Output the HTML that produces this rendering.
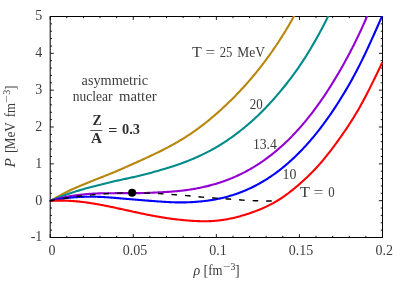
<!DOCTYPE html>
<html><head><meta charset="utf-8"><title>P vs rho</title>
<style>
html,body{margin:0;padding:0;background:#fff;}
svg{display:block;font-family:"Liberation Serif",serif;font-size:14px;fill:#222;}
.c path{fill:none;stroke-width:2.1;stroke-linejoin:round;}
</style></head><body>
<svg width="407" height="285" viewBox="0 0 407 285">
<rect width="407" height="285" fill="#fff"/>
<defs><filter id="nf" x="0" y="0" width="407" height="285" filterUnits="userSpaceOnUse"><feOffset dx="0" dy="0"/></filter><clipPath id="cp"><rect x="49.2" y="16.0" width="333.8" height="222.0"/></clipPath></defs>
<rect x="50.2" y="16.5" width="332.3" height="221.0" fill="none" stroke="#000" stroke-width="1.0"/>
<path d="M50.20,237.5 v-3.4 M50.20,16.5 v3.4 M66.81,237.5 v-1.7 M66.81,16.5 v1.7 M83.43,237.5 v-1.7 M83.43,16.5 v1.7 M100.04,237.5 v-1.7 M100.04,16.5 v1.7 M116.66,237.5 v-1.7 M116.66,16.5 v1.7 M133.28,237.5 v-3.4 M133.28,16.5 v3.4 M149.89,237.5 v-1.7 M149.89,16.5 v1.7 M166.50,237.5 v-1.7 M166.50,16.5 v1.7 M183.12,237.5 v-1.7 M183.12,16.5 v1.7 M199.74,237.5 v-1.7 M199.74,16.5 v1.7 M216.35,237.5 v-3.4 M216.35,16.5 v3.4 M232.97,237.5 v-1.7 M232.97,16.5 v1.7 M249.58,237.5 v-1.7 M249.58,16.5 v1.7 M266.19,237.5 v-1.7 M266.19,16.5 v1.7 M282.81,237.5 v-1.7 M282.81,16.5 v1.7 M299.43,237.5 v-3.4 M299.43,16.5 v3.4 M316.04,237.5 v-1.7 M316.04,16.5 v1.7 M332.66,237.5 v-1.7 M332.66,16.5 v1.7 M349.27,237.5 v-1.7 M349.27,16.5 v1.7 M365.88,237.5 v-1.7 M365.88,16.5 v1.7 M382.50,237.5 v-3.4 M382.50,16.5 v3.4 M50.2,237.50 h3.6 M382.5,237.50 h-3.6 M50.2,230.13 h1.8 M382.5,230.13 h-1.8 M50.2,222.77 h1.8 M382.5,222.77 h-1.8 M50.2,215.40 h1.8 M382.5,215.40 h-1.8 M50.2,208.03 h1.8 M382.5,208.03 h-1.8 M50.2,200.67 h3.6 M382.5,200.67 h-3.6 M50.2,193.30 h1.8 M382.5,193.30 h-1.8 M50.2,185.93 h1.8 M382.5,185.93 h-1.8 M50.2,178.57 h1.8 M382.5,178.57 h-1.8 M50.2,171.20 h1.8 M382.5,171.20 h-1.8 M50.2,163.83 h3.6 M382.5,163.83 h-3.6 M50.2,156.47 h1.8 M382.5,156.47 h-1.8 M50.2,149.10 h1.8 M382.5,149.10 h-1.8 M50.2,141.73 h1.8 M382.5,141.73 h-1.8 M50.2,134.37 h1.8 M382.5,134.37 h-1.8 M50.2,127.00 h3.6 M382.5,127.00 h-3.6 M50.2,119.63 h1.8 M382.5,119.63 h-1.8 M50.2,112.27 h1.8 M382.5,112.27 h-1.8 M50.2,104.90 h1.8 M382.5,104.90 h-1.8 M50.2,97.53 h1.8 M382.5,97.53 h-1.8 M50.2,90.17 h3.6 M382.5,90.17 h-3.6 M50.2,82.80 h1.8 M382.5,82.80 h-1.8 M50.2,75.43 h1.8 M382.5,75.43 h-1.8 M50.2,68.07 h1.8 M382.5,68.07 h-1.8 M50.2,60.70 h1.8 M382.5,60.70 h-1.8 M50.2,53.33 h3.6 M382.5,53.33 h-3.6 M50.2,45.97 h1.8 M382.5,45.97 h-1.8 M50.2,38.60 h1.8 M382.5,38.60 h-1.8 M50.2,31.23 h1.8 M382.5,31.23 h-1.8 M50.2,23.87 h1.8 M382.5,23.87 h-1.8 M50.2,16.50 h3.6 M382.5,16.50 h-3.6" stroke="#000" stroke-width="0.9" fill="none"/>
<g class="c" clip-path="url(#cp)">
<path d="M50.3,200.80 L51.3,200.25 L52.3,199.69 L53.3,199.14 L54.3,198.59 L55.3,198.05 L56.3,197.50 L57.3,196.96 L58.3,196.42 L59.3,195.88 L60.3,195.35 L61.3,194.82 L62.3,194.30 L63.3,193.78 L64.3,193.27 L65.3,192.76 L66.3,192.25 L67.3,191.75 L68.3,191.25 L69.3,190.76 L70.3,190.27 L71.3,189.79 L72.3,189.32 L73.3,188.85 L74.3,188.40 L75.3,187.95 L76.3,187.51 L77.3,187.07 L78.3,186.64 L79.3,186.22 L80.3,185.80 L81.3,185.39 L82.3,184.98 L83.3,184.57 L84.3,184.16 L85.3,183.75 L86.3,183.33 L87.3,182.92 L88.3,182.51 L89.3,182.10 L90.3,181.68 L91.3,181.27 L92.3,180.86 L93.3,180.46 L94.3,180.05 L95.3,179.65 L96.3,179.25 L97.3,178.86 L98.3,178.46 L99.3,178.07 L100.3,177.68 L101.3,177.29 L102.3,176.90 L103.3,176.51 L104.3,176.13 L105.3,175.73 L106.3,175.34 L107.3,174.95 L108.3,174.55 L109.3,174.15 L110.3,173.75 L111.3,173.34 L112.3,172.93 L113.3,172.52 L114.3,172.10 L115.3,171.68 L116.3,171.26 L117.3,170.83 L118.3,170.40 L119.3,169.97 L120.3,169.54 L121.3,169.10 L122.3,168.67 L123.3,168.23 L124.3,167.79 L125.3,167.35 L126.3,166.91 L127.3,166.46 L128.3,166.02 L129.3,165.57 L130.3,165.13 L131.3,164.68 L132.3,164.23 L133.3,163.78 L134.3,163.33 L135.3,162.88 L136.3,162.43 L137.3,161.98 L138.3,161.52 L139.3,161.07 L140.3,160.61 L141.3,160.16 L142.3,159.70 L143.3,159.24 L144.3,158.79 L145.3,158.33 L146.3,157.87 L147.3,157.40 L148.3,156.94 L149.3,156.47 L150.3,156.00 L151.3,155.53 L152.3,155.06 L153.3,154.59 L154.3,154.11 L155.3,153.63 L156.3,153.15 L157.3,152.66 L158.3,152.18 L159.3,151.69 L160.3,151.19 L161.3,150.69 L162.3,150.19 L163.3,149.69 L164.3,149.18 L165.3,148.67 L166.3,148.15 L167.3,147.63 L168.3,147.10 L169.3,146.57 L170.3,146.03 L171.3,145.49 L172.3,144.95 L173.3,144.39 L174.3,143.84 L175.3,143.27 L176.3,142.70 L177.3,142.13 L178.3,141.55 L179.3,140.96 L180.3,140.36 L181.3,139.76 L182.3,139.15 L183.3,138.53 L184.3,137.91 L185.3,137.28 L186.3,136.64 L187.3,135.99 L188.3,135.34 L189.3,134.68 L190.3,134.01 L191.3,133.34 L192.3,132.65 L193.3,131.96 L194.3,131.26 L195.3,130.56 L196.3,129.84 L197.3,129.12 L198.3,128.39 L199.3,127.65 L200.3,126.91 L201.3,126.15 L202.3,125.39 L203.3,124.62 L204.3,123.84 L205.3,123.05 L206.3,122.26 L207.3,121.45 L208.3,120.64 L209.3,119.82 L210.3,119.00 L211.3,118.16 L212.3,117.32 L213.3,116.47 L214.3,115.61 L215.3,114.75 L216.3,113.88 L217.3,113.00 L218.3,112.11 L219.3,111.22 L220.3,110.32 L221.3,109.41 L222.3,108.50 L223.3,107.57 L224.3,106.64 L225.3,105.70 L226.3,104.76 L227.3,103.81 L228.3,102.84 L229.3,101.87 L230.3,100.90 L231.3,99.91 L232.3,98.92 L233.3,97.92 L234.3,96.91 L235.3,95.89 L236.3,94.86 L237.3,93.82 L238.3,92.78 L239.3,91.72 L240.3,90.66 L241.3,89.59 L242.3,88.51 L243.3,87.42 L244.3,86.32 L245.3,85.21 L246.3,84.09 L247.3,82.96 L248.3,81.82 L249.3,80.67 L250.3,79.51 L251.3,78.34 L252.3,77.15 L253.3,75.96 L254.3,74.76 L255.3,73.55 L256.3,72.32 L257.3,71.08 L258.3,69.84 L259.3,68.58 L260.3,67.31 L261.3,66.03 L262.3,64.73 L263.3,63.42 L264.3,62.11 L265.3,60.77 L266.3,59.43 L267.3,58.07 L268.3,56.70 L269.3,55.32 L270.3,53.92 L271.3,52.51 L272.3,51.09 L273.3,49.65 L274.3,48.19 L275.3,46.73 L276.3,45.24 L277.3,43.75 L278.3,42.24 L279.3,40.71 L280.3,39.17 L281.3,37.61 L282.3,36.03 L283.3,34.44 L284.3,32.83 L285.3,31.21 L286.3,29.56 L287.3,27.90 L288.3,26.22 L289.3,24.51 L290.3,22.79 L291.3,21.05 L292.3,19.28 L293.3,17.49 L294.3,15.68 L295.3,13.85 L296.3,11.99 L297.3,10.11 L298.3,8.21 L299.3,6.28 L300.3,4.32 L301.3,2.34 L302.3,0.33 L303.3,-1.70 L304.3,-3.75 L305.3,-5.82 L306.3,-7.91 L307.3,-10.01 L308.3,-12.14 L309.3,-14.28 L310.3,-16.43 L311.3,-18.60 L312.3,-20.78 L313.3,-22.96 L314.3,-25.16 L315.3,-27.36 L316.3,-29.57 L317.3,-31.79 L318.3,-34.01 L319.3,-36.23" stroke="#b8860b"/>
<path d="M50.3,200.80 L51.3,200.39 L52.3,199.99 L53.3,199.58 L54.3,199.18 L55.3,198.78 L56.3,198.38 L57.3,197.99 L58.3,197.59 L59.3,197.20 L60.3,196.82 L61.3,196.44 L62.3,196.06 L63.3,195.69 L64.3,195.32 L65.3,194.96 L66.3,194.60 L67.3,194.26 L68.3,193.91 L69.3,193.57 L70.3,193.24 L71.3,192.91 L72.3,192.59 L73.3,192.26 L74.3,191.94 L75.3,191.62 L76.3,191.31 L77.3,190.99 L78.3,190.68 L79.3,190.38 L80.3,190.07 L81.3,189.77 L82.3,189.47 L83.3,189.18 L84.3,188.89 L85.3,188.61 L86.3,188.33 L87.3,188.05 L88.3,187.78 L89.3,187.52 L90.3,187.25 L91.3,186.99 L92.3,186.73 L93.3,186.48 L94.3,186.22 L95.3,185.96 L96.3,185.71 L97.3,185.45 L98.3,185.20 L99.3,184.94 L100.3,184.69 L101.3,184.43 L102.3,184.18 L103.3,183.93 L104.3,183.68 L105.3,183.43 L106.3,183.18 L107.3,182.94 L108.3,182.70 L109.3,182.46 L110.3,182.22 L111.3,181.98 L112.3,181.75 L113.3,181.52 L114.3,181.29 L115.3,181.06 L116.3,180.84 L117.3,180.61 L118.3,180.39 L119.3,180.17 L120.3,179.95 L121.3,179.73 L122.3,179.51 L123.3,179.30 L124.3,179.08 L125.3,178.87 L126.3,178.65 L127.3,178.43 L128.3,178.22 L129.3,178.00 L130.3,177.79 L131.3,177.57 L132.3,177.35 L133.3,177.13 L134.3,176.91 L135.3,176.68 L136.3,176.46 L137.3,176.23 L138.3,175.99 L139.3,175.76 L140.3,175.52 L141.3,175.27 L142.3,175.03 L143.3,174.78 L144.3,174.52 L145.3,174.27 L146.3,174.01 L147.3,173.74 L148.3,173.48 L149.3,173.21 L150.3,172.94 L151.3,172.66 L152.3,172.39 L153.3,172.11 L154.3,171.83 L155.3,171.55 L156.3,171.26 L157.3,170.98 L158.3,170.69 L159.3,170.40 L160.3,170.11 L161.3,169.82 L162.3,169.53 L163.3,169.24 L164.3,168.94 L165.3,168.64 L166.3,168.34 L167.3,168.04 L168.3,167.73 L169.3,167.42 L170.3,167.11 L171.3,166.80 L172.3,166.48 L173.3,166.16 L174.3,165.83 L175.3,165.50 L176.3,165.17 L177.3,164.83 L178.3,164.49 L179.3,164.14 L180.3,163.78 L181.3,163.42 L182.3,163.06 L183.3,162.69 L184.3,162.32 L185.3,161.93 L186.3,161.55 L187.3,161.16 L188.3,160.76 L189.3,160.36 L190.3,159.95 L191.3,159.54 L192.3,159.12 L193.3,158.70 L194.3,158.27 L195.3,157.83 L196.3,157.39 L197.3,156.94 L198.3,156.49 L199.3,156.03 L200.3,155.57 L201.3,155.10 L202.3,154.63 L203.3,154.15 L204.3,153.66 L205.3,153.16 L206.3,152.66 L207.3,152.16 L208.3,151.64 L209.3,151.12 L210.3,150.59 L211.3,150.06 L212.3,149.51 L213.3,148.96 L214.3,148.40 L215.3,147.83 L216.3,147.26 L217.3,146.67 L218.3,146.08 L219.3,145.48 L220.3,144.87 L221.3,144.25 L222.3,143.62 L223.3,142.98 L224.3,142.33 L225.3,141.67 L226.3,141.01 L227.3,140.33 L228.3,139.65 L229.3,138.96 L230.3,138.26 L231.3,137.55 L232.3,136.83 L233.3,136.11 L234.3,135.38 L235.3,134.63 L236.3,133.88 L237.3,133.13 L238.3,132.36 L239.3,131.59 L240.3,130.80 L241.3,130.02 L242.3,129.22 L243.3,128.41 L244.3,127.60 L245.3,126.77 L246.3,125.94 L247.3,125.10 L248.3,124.25 L249.3,123.39 L250.3,122.52 L251.3,121.64 L252.3,120.75 L253.3,119.85 L254.3,118.94 L255.3,118.02 L256.3,117.09 L257.3,116.14 L258.3,115.19 L259.3,114.22 L260.3,113.25 L261.3,112.26 L262.3,111.25 L263.3,110.24 L264.3,109.22 L265.3,108.18 L266.3,107.14 L267.3,106.08 L268.3,105.01 L269.3,103.93 L270.3,102.84 L271.3,101.74 L272.3,100.63 L273.3,99.50 L274.3,98.37 L275.3,97.23 L276.3,96.08 L277.3,94.92 L278.3,93.74 L279.3,92.56 L280.3,91.37 L281.3,90.17 L282.3,88.96 L283.3,87.74 L284.3,86.51 L285.3,85.26 L286.3,84.01 L287.3,82.74 L288.3,81.46 L289.3,80.17 L290.3,78.86 L291.3,77.54 L292.3,76.21 L293.3,74.85 L294.3,73.49 L295.3,72.11 L296.3,70.71 L297.3,69.29 L298.3,67.86 L299.3,66.41 L300.3,64.94 L301.3,63.45 L302.3,61.94 L303.3,60.42 L304.3,58.87 L305.3,57.31 L306.3,55.73 L307.3,54.13 L308.3,52.51 L309.3,50.87 L310.3,49.21 L311.3,47.54 L312.3,45.84 L313.3,44.13 L314.3,42.40 L315.3,40.64 L316.3,38.87 L317.3,37.08 L318.3,35.27 L319.3,33.44 L320.3,31.59 L321.3,29.73 L322.3,27.84 L323.3,25.93 L324.3,24.00 L325.3,22.04 L326.3,20.06 L327.3,18.06 L328.3,16.03 L329.3,13.98 L330.3,11.90 L331.3,9.79 L332.3,7.65 L333.3,5.48 L334.3,3.29 L335.3,1.06 L336.3,-1.20 L337.3,-3.49 L338.3,-5.82 L339.3,-8.18 L340.3,-10.57 L341.3,-13.00 L342.3,-15.47 L343.3,-17.96 L344.3,-20.48 L345.3,-23.04 L346.3,-25.62 L347.3,-28.22 L348.3,-30.84 L349.3,-33.49 L350.3,-36.16 L351.3,-38.84 L352.3,-41.54 L353.3,-44.25 L354.3,-46.97 L355.3,-49.71 L356.3,-52.45 L357.3,-55.20 L358.3,-57.95 L359.3,-60.71" stroke="#008b8b"/>
<path d="M50.3,200.80 L51.3,200.52 L52.3,200.23 L53.3,199.95 L54.3,199.67 L55.3,199.40 L56.3,199.13 L57.3,198.87 L58.3,198.61 L59.3,198.37 L60.3,198.13 L61.3,197.90 L62.3,197.68 L63.3,197.47 L64.3,197.26 L65.3,197.06 L66.3,196.86 L67.3,196.67 L68.3,196.49 L69.3,196.31 L70.3,196.14 L71.3,195.98 L72.3,195.82 L73.3,195.67 L74.3,195.52 L75.3,195.38 L76.3,195.24 L77.3,195.11 L78.3,194.99 L79.3,194.87 L80.3,194.75 L81.3,194.64 L82.3,194.54 L83.3,194.44 L84.3,194.34 L85.3,194.24 L86.3,194.15 L87.3,194.06 L88.3,193.98 L89.3,193.90 L90.3,193.82 L91.3,193.75 L92.3,193.69 L93.3,193.62 L94.3,193.57 L95.3,193.52 L96.3,193.47 L97.3,193.43 L98.3,193.39 L99.3,193.36 L100.3,193.33 L101.3,193.31 L102.3,193.29 L103.3,193.27 L104.3,193.25 L105.3,193.24 L106.3,193.23 L107.3,193.22 L108.3,193.21 L109.3,193.20 L110.3,193.20 L111.3,193.19 L112.3,193.19 L113.3,193.18 L114.3,193.18 L115.3,193.17 L116.3,193.17 L117.3,193.17 L118.3,193.17 L119.3,193.16 L120.3,193.16 L121.3,193.16 L122.3,193.16 L123.3,193.16 L124.3,193.16 L125.3,193.16 L126.3,193.16 L127.3,193.16 L128.3,193.16 L129.3,193.16 L130.3,193.16 L131.3,193.16 L132.3,193.16 L133.3,193.16 L134.3,193.15 L135.3,193.14 L136.3,193.14 L137.3,193.13 L138.3,193.12 L139.3,193.10 L140.3,193.08 L141.3,193.07 L142.3,193.04 L143.3,193.02 L144.3,192.99 L145.3,192.96 L146.3,192.93 L147.3,192.90 L148.3,192.86 L149.3,192.83 L150.3,192.79 L151.3,192.75 L152.3,192.70 L153.3,192.66 L154.3,192.61 L155.3,192.57 L156.3,192.52 L157.3,192.47 L158.3,192.42 L159.3,192.37 L160.3,192.31 L161.3,192.26 L162.3,192.21 L163.3,192.15 L164.3,192.09 L165.3,192.03 L166.3,191.97 L167.3,191.91 L168.3,191.85 L169.3,191.78 L170.3,191.71 L171.3,191.64 L172.3,191.56 L173.3,191.48 L174.3,191.40 L175.3,191.31 L176.3,191.22 L177.3,191.13 L178.3,191.03 L179.3,190.93 L180.3,190.83 L181.3,190.72 L182.3,190.60 L183.3,190.48 L184.3,190.36 L185.3,190.23 L186.3,190.10 L187.3,189.96 L188.3,189.82 L189.3,189.67 L190.3,189.52 L191.3,189.36 L192.3,189.20 L193.3,189.03 L194.3,188.86 L195.3,188.68 L196.3,188.50 L197.3,188.31 L198.3,188.12 L199.3,187.92 L200.3,187.72 L201.3,187.51 L202.3,187.30 L203.3,187.08 L204.3,186.85 L205.3,186.62 L206.3,186.38 L207.3,186.14 L208.3,185.89 L209.3,185.64 L210.3,185.38 L211.3,185.11 L212.3,184.84 L213.3,184.56 L214.3,184.27 L215.3,183.98 L216.3,183.68 L217.3,183.38 L218.3,183.07 L219.3,182.75 L220.3,182.42 L221.3,182.09 L222.3,181.75 L223.3,181.40 L224.3,181.05 L225.3,180.69 L226.3,180.32 L227.3,179.94 L228.3,179.56 L229.3,179.17 L230.3,178.77 L231.3,178.36 L232.3,177.95 L233.3,177.53 L234.3,177.10 L235.3,176.66 L236.3,176.21 L237.3,175.76 L238.3,175.30 L239.3,174.82 L240.3,174.35 L241.3,173.86 L242.3,173.36 L243.3,172.86 L244.3,172.34 L245.3,171.82 L246.3,171.29 L247.3,170.75 L248.3,170.20 L249.3,169.64 L250.3,169.07 L251.3,168.49 L252.3,167.91 L253.3,167.31 L254.3,166.71 L255.3,166.09 L256.3,165.47 L257.3,164.83 L258.3,164.19 L259.3,163.53 L260.3,162.87 L261.3,162.20 L262.3,161.51 L263.3,160.82 L264.3,160.11 L265.3,159.40 L266.3,158.67 L267.3,157.94 L268.3,157.19 L269.3,156.43 L270.3,155.66 L271.3,154.89 L272.3,154.10 L273.3,153.30 L274.3,152.48 L275.3,151.66 L276.3,150.83 L277.3,149.98 L278.3,149.12 L279.3,148.25 L280.3,147.37 L281.3,146.48 L282.3,145.58 L283.3,144.66 L284.3,143.74 L285.3,142.80 L286.3,141.85 L287.3,140.88 L288.3,139.91 L289.3,138.92 L290.3,137.92 L291.3,136.91 L292.3,135.88 L293.3,134.84 L294.3,133.79 L295.3,132.73 L296.3,131.65 L297.3,130.56 L298.3,129.46 L299.3,128.34 L300.3,127.21 L301.3,126.07 L302.3,124.91 L303.3,123.74 L304.3,122.56 L305.3,121.36 L306.3,120.15 L307.3,118.92 L308.3,117.68 L309.3,116.43 L310.3,115.16 L311.3,113.87 L312.3,112.58 L313.3,111.26 L314.3,109.94 L315.3,108.59 L316.3,107.24 L317.3,105.86 L318.3,104.48 L319.3,103.07 L320.3,101.65 L321.3,100.22 L322.3,98.77 L323.3,97.30 L324.3,95.82 L325.3,94.32 L326.3,92.81 L327.3,91.28 L328.3,89.74 L329.3,88.18 L330.3,86.60 L331.3,85.01 L332.3,83.41 L333.3,81.79 L334.3,80.15 L335.3,78.50 L336.3,76.83 L337.3,75.14 L338.3,73.44 L339.3,71.73 L340.3,70.00 L341.3,68.25 L342.3,66.49 L343.3,64.71 L344.3,62.92 L345.3,61.10 L346.3,59.27 L347.3,57.42 L348.3,55.55 L349.3,53.67 L350.3,51.76 L351.3,49.83 L352.3,47.88 L353.3,45.91 L354.3,43.92 L355.3,41.90 L356.3,39.86 L357.3,37.80 L358.3,35.72 L359.3,33.61 L360.3,31.48 L361.3,29.32 L362.3,27.14 L363.3,24.93 L364.3,22.71 L365.3,20.46 L366.3,18.20 L367.3,15.92 L368.3,13.62 L369.3,11.30 L370.3,8.97 L371.3,6.63 L372.3,4.27 L373.3,1.90 L374.3,-0.48 L375.3,-2.87 L376.3,-5.27 L377.3,-7.67 L378.3,-10.08 L379.3,-12.50 L380.3,-14.92 L381.3,-17.34 L382.3,-19.76" stroke="#9400d3"/>
<path d="M50.3,200.80 L51.3,200.60 L52.3,200.39 L53.3,200.19 L54.3,199.99 L55.3,199.80 L56.3,199.61 L57.3,199.42 L58.3,199.25 L59.3,199.08 L60.3,198.92 L61.3,198.76 L62.3,198.62 L63.3,198.48 L64.3,198.34 L65.3,198.22 L66.3,198.09 L67.3,197.98 L68.3,197.87 L69.3,197.76 L70.3,197.66 L71.3,197.56 L72.3,197.48 L73.3,197.39 L74.3,197.31 L75.3,197.24 L76.3,197.17 L77.3,197.11 L78.3,197.05 L79.3,197.00 L80.3,196.95 L81.3,196.90 L82.3,196.86 L83.3,196.83 L84.3,196.80 L85.3,196.77 L86.3,196.75 L87.3,196.73 L88.3,196.72 L89.3,196.71 L90.3,196.71 L91.3,196.71 L92.3,196.71 L93.3,196.72 L94.3,196.74 L95.3,196.76 L96.3,196.78 L97.3,196.81 L98.3,196.84 L99.3,196.88 L100.3,196.92 L101.3,196.97 L102.3,197.01 L103.3,197.07 L104.3,197.12 L105.3,197.18 L106.3,197.25 L107.3,197.31 L108.3,197.38 L109.3,197.45 L110.3,197.52 L111.3,197.60 L112.3,197.67 L113.3,197.75 L114.3,197.83 L115.3,197.92 L116.3,198.00 L117.3,198.08 L118.3,198.17 L119.3,198.26 L120.3,198.34 L121.3,198.43 L122.3,198.52 L123.3,198.60 L124.3,198.69 L125.3,198.78 L126.3,198.86 L127.3,198.95 L128.3,199.03 L129.3,199.12 L130.3,199.20 L131.3,199.28 L132.3,199.37 L133.3,199.45 L134.3,199.53 L135.3,199.61 L136.3,199.70 L137.3,199.78 L138.3,199.86 L139.3,199.94 L140.3,200.02 L141.3,200.11 L142.3,200.19 L143.3,200.27 L144.3,200.35 L145.3,200.43 L146.3,200.51 L147.3,200.59 L148.3,200.67 L149.3,200.75 L150.3,200.83 L151.3,200.91 L152.3,200.99 L153.3,201.06 L154.3,201.14 L155.3,201.21 L156.3,201.29 L157.3,201.36 L158.3,201.43 L159.3,201.50 L160.3,201.57 L161.3,201.64 L162.3,201.70 L163.3,201.77 L164.3,201.83 L165.3,201.89 L166.3,201.94 L167.3,202.00 L168.3,202.05 L169.3,202.10 L170.3,202.15 L171.3,202.19 L172.3,202.23 L173.3,202.26 L174.3,202.30 L175.3,202.33 L176.3,202.35 L177.3,202.37 L178.3,202.38 L179.3,202.40 L180.3,202.40 L181.3,202.40 L182.3,202.40 L183.3,202.39 L184.3,202.38 L185.3,202.36 L186.3,202.33 L187.3,202.30 L188.3,202.27 L189.3,202.23 L190.3,202.19 L191.3,202.14 L192.3,202.09 L193.3,202.03 L194.3,201.97 L195.3,201.90 L196.3,201.82 L197.3,201.75 L198.3,201.66 L199.3,201.57 L200.3,201.48 L201.3,201.38 L202.3,201.28 L203.3,201.17 L204.3,201.06 L205.3,200.94 L206.3,200.81 L207.3,200.68 L208.3,200.55 L209.3,200.40 L210.3,200.25 L211.3,200.10 L212.3,199.94 L213.3,199.77 L214.3,199.60 L215.3,199.41 L216.3,199.23 L217.3,199.03 L218.3,198.83 L219.3,198.62 L220.3,198.40 L221.3,198.18 L222.3,197.95 L223.3,197.71 L224.3,197.46 L225.3,197.21 L226.3,196.95 L227.3,196.68 L228.3,196.40 L229.3,196.11 L230.3,195.82 L231.3,195.52 L232.3,195.21 L233.3,194.89 L234.3,194.57 L235.3,194.23 L236.3,193.89 L237.3,193.54 L238.3,193.18 L239.3,192.81 L240.3,192.44 L241.3,192.05 L242.3,191.66 L243.3,191.26 L244.3,190.85 L245.3,190.43 L246.3,190.00 L247.3,189.56 L248.3,189.11 L249.3,188.66 L250.3,188.19 L251.3,187.72 L252.3,187.23 L253.3,186.74 L254.3,186.23 L255.3,185.72 L256.3,185.20 L257.3,184.67 L258.3,184.12 L259.3,183.57 L260.3,183.01 L261.3,182.44 L262.3,181.86 L263.3,181.26 L264.3,180.66 L265.3,180.05 L266.3,179.42 L267.3,178.79 L268.3,178.14 L269.3,177.49 L270.3,176.82 L271.3,176.15 L272.3,175.46 L273.3,174.76 L274.3,174.05 L275.3,173.33 L276.3,172.60 L277.3,171.85 L278.3,171.10 L279.3,170.33 L280.3,169.56 L281.3,168.77 L282.3,167.97 L283.3,167.15 L284.3,166.33 L285.3,165.50 L286.3,164.65 L287.3,163.79 L288.3,162.92 L289.3,162.03 L290.3,161.14 L291.3,160.23 L292.3,159.31 L293.3,158.38 L294.3,157.44 L295.3,156.48 L296.3,155.51 L297.3,154.53 L298.3,153.54 L299.3,152.53 L300.3,151.51 L301.3,150.48 L302.3,149.44 L303.3,148.38 L304.3,147.31 L305.3,146.23 L306.3,145.13 L307.3,144.02 L308.3,142.89 L309.3,141.76 L310.3,140.61 L311.3,139.44 L312.3,138.26 L313.3,137.07 L314.3,135.86 L315.3,134.64 L316.3,133.40 L317.3,132.15 L318.3,130.89 L319.3,129.61 L320.3,128.31 L321.3,127.00 L322.3,125.67 L323.3,124.33 L324.3,122.98 L325.3,121.61 L326.3,120.22 L327.3,118.83 L328.3,117.41 L329.3,115.98 L330.3,114.54 L331.3,113.08 L332.3,111.60 L333.3,110.12 L334.3,108.61 L335.3,107.09 L336.3,105.56 L337.3,104.01 L338.3,102.45 L339.3,100.87 L340.3,99.28 L341.3,97.67 L342.3,96.05 L343.3,94.41 L344.3,92.76 L345.3,91.09 L346.3,89.40 L347.3,87.69 L348.3,85.97 L349.3,84.22 L350.3,82.46 L351.3,80.68 L352.3,78.87 L353.3,77.05 L354.3,75.20 L355.3,73.33 L356.3,71.44 L357.3,69.53 L358.3,67.59 L359.3,65.63 L360.3,63.64 L361.3,61.63 L362.3,59.60 L363.3,57.54 L364.3,55.46 L365.3,53.36 L366.3,51.24 L367.3,49.11 L368.3,46.95 L369.3,44.78 L370.3,42.60 L371.3,40.40 L372.3,38.19 L373.3,35.97 L374.3,33.74 L375.3,31.49 L376.3,29.24 L377.3,26.99 L378.3,24.72 L379.3,22.45 L380.3,20.18 L381.3,17.90 L382.3,15.63" stroke="#0000ff"/>
<path d="M50.3,200.80 L51.3,200.77 L52.3,200.75 L53.3,200.72 L54.3,200.70 L55.3,200.68 L56.3,200.66 L57.3,200.65 L58.3,200.64 L59.3,200.63 L60.3,200.63 L61.3,200.63 L62.3,200.64 L63.3,200.65 L64.3,200.67 L65.3,200.69 L66.3,200.72 L67.3,200.75 L68.3,200.80 L69.3,200.84 L70.3,200.90 L71.3,200.95 L72.3,201.02 L73.3,201.09 L74.3,201.16 L75.3,201.24 L76.3,201.33 L77.3,201.42 L78.3,201.52 L79.3,201.62 L80.3,201.73 L81.3,201.84 L82.3,201.95 L83.3,202.07 L84.3,202.20 L85.3,202.33 L86.3,202.46 L87.3,202.60 L88.3,202.74 L89.3,202.89 L90.3,203.04 L91.3,203.20 L92.3,203.36 L93.3,203.52 L94.3,203.68 L95.3,203.85 L96.3,204.02 L97.3,204.20 L98.3,204.38 L99.3,204.56 L100.3,204.74 L101.3,204.93 L102.3,205.12 L103.3,205.31 L104.3,205.50 L105.3,205.70 L106.3,205.90 L107.3,206.10 L108.3,206.30 L109.3,206.51 L110.3,206.71 L111.3,206.92 L112.3,207.13 L113.3,207.34 L114.3,207.56 L115.3,207.77 L116.3,207.99 L117.3,208.20 L118.3,208.42 L119.3,208.64 L120.3,208.86 L121.3,209.08 L122.3,209.30 L123.3,209.52 L124.3,209.74 L125.3,209.96 L126.3,210.18 L127.3,210.40 L128.3,210.62 L129.3,210.84 L130.3,211.05 L131.3,211.27 L132.3,211.49 L133.3,211.71 L134.3,211.93 L135.3,212.14 L136.3,212.36 L137.3,212.57 L138.3,212.79 L139.3,213.00 L140.3,213.21 L141.3,213.42 L142.3,213.63 L143.3,213.84 L144.3,214.05 L145.3,214.26 L146.3,214.46 L147.3,214.66 L148.3,214.86 L149.3,215.06 L150.3,215.26 L151.3,215.45 L152.3,215.65 L153.3,215.83 L154.3,216.02 L155.3,216.21 L156.3,216.39 L157.3,216.56 L158.3,216.74 L159.3,216.91 L160.3,217.08 L161.3,217.25 L162.3,217.41 L163.3,217.57 L164.3,217.72 L165.3,217.87 L166.3,218.02 L167.3,218.17 L168.3,218.31 L169.3,218.45 L170.3,218.59 L171.3,218.72 L172.3,218.85 L173.3,218.98 L174.3,219.10 L175.3,219.22 L176.3,219.34 L177.3,219.46 L178.3,219.57 L179.3,219.68 L180.3,219.79 L181.3,219.90 L182.3,220.00 L183.3,220.10 L184.3,220.20 L185.3,220.29 L186.3,220.38 L187.3,220.47 L188.3,220.55 L189.3,220.63 L190.3,220.70 L191.3,220.77 L192.3,220.84 L193.3,220.90 L194.3,220.96 L195.3,221.01 L196.3,221.06 L197.3,221.10 L198.3,221.14 L199.3,221.17 L200.3,221.20 L201.3,221.22 L202.3,221.23 L203.3,221.24 L204.3,221.25 L205.3,221.24 L206.3,221.23 L207.3,221.21 L208.3,221.19 L209.3,221.16 L210.3,221.12 L211.3,221.08 L212.3,221.02 L213.3,220.96 L214.3,220.89 L215.3,220.81 L216.3,220.73 L217.3,220.63 L218.3,220.53 L219.3,220.41 L220.3,220.29 L221.3,220.16 L222.3,220.02 L223.3,219.87 L224.3,219.71 L225.3,219.55 L226.3,219.37 L227.3,219.19 L228.3,219.00 L229.3,218.80 L230.3,218.59 L231.3,218.38 L232.3,218.15 L233.3,217.93 L234.3,217.69 L235.3,217.45 L236.3,217.20 L237.3,216.94 L238.3,216.68 L239.3,216.41 L240.3,216.14 L241.3,215.86 L242.3,215.57 L243.3,215.28 L244.3,214.98 L245.3,214.68 L246.3,214.36 L247.3,214.05 L248.3,213.72 L249.3,213.39 L250.3,213.05 L251.3,212.71 L252.3,212.36 L253.3,212.00 L254.3,211.63 L255.3,211.26 L256.3,210.88 L257.3,210.49 L258.3,210.09 L259.3,209.69 L260.3,209.28 L261.3,208.86 L262.3,208.43 L263.3,207.99 L264.3,207.54 L265.3,207.09 L266.3,206.62 L267.3,206.14 L268.3,205.66 L269.3,205.16 L270.3,204.65 L271.3,204.13 L272.3,203.60 L273.3,203.05 L274.3,202.49 L275.3,201.92 L276.3,201.34 L277.3,200.74 L278.3,200.13 L279.3,199.51 L280.3,198.87 L281.3,198.21 L282.3,197.54 L283.3,196.86 L284.3,196.16 L285.3,195.45 L286.3,194.72 L287.3,193.99 L288.3,193.24 L289.3,192.47 L290.3,191.70 L291.3,190.91 L292.3,190.12 L293.3,189.31 L294.3,188.49 L295.3,187.66 L296.3,186.82 L297.3,185.97 L298.3,185.11 L299.3,184.24 L300.3,183.37 L301.3,182.48 L302.3,181.59 L303.3,180.68 L304.3,179.77 L305.3,178.84 L306.3,177.91 L307.3,176.96 L308.3,176.00 L309.3,175.03 L310.3,174.04 L311.3,173.04 L312.3,172.03 L313.3,171.01 L314.3,169.97 L315.3,168.91 L316.3,167.84 L317.3,166.75 L318.3,165.65 L319.3,164.53 L320.3,163.39 L321.3,162.23 L322.3,161.06 L323.3,159.87 L324.3,158.66 L325.3,157.44 L326.3,156.20 L327.3,154.95 L328.3,153.68 L329.3,152.40 L330.3,151.10 L331.3,149.80 L332.3,148.48 L333.3,147.14 L334.3,145.80 L335.3,144.44 L336.3,143.07 L337.3,141.69 L338.3,140.30 L339.3,138.90 L340.3,137.50 L341.3,136.08 L342.3,134.65 L343.3,133.21 L344.3,131.76 L345.3,130.30 L346.3,128.82 L347.3,127.33 L348.3,125.82 L349.3,124.29 L350.3,122.75 L351.3,121.19 L352.3,119.61 L353.3,118.01 L354.3,116.38 L355.3,114.74 L356.3,113.07 L357.3,111.38 L358.3,109.66 L359.3,107.92 L360.3,106.15 L361.3,104.35 L362.3,102.53 L363.3,100.68 L364.3,98.81 L365.3,96.91 L366.3,95.00 L367.3,93.06 L368.3,91.11 L369.3,89.13 L370.3,87.15 L371.3,85.14 L372.3,83.13 L373.3,81.10 L374.3,79.05 L375.3,77.00 L376.3,74.94 L377.3,72.87 L378.3,70.79 L379.3,68.71 L380.3,66.63 L381.3,64.54 L382.3,62.44" stroke="#ff0000"/>
</g>
<path d="M49.37,200.98 L51.24,200.62 L53.10,200.27 L54.97,199.93 M62.90,198.55 L64.77,198.24 L66.63,197.94 L68.50,197.65 M76.43,196.52 L78.30,196.29 L80.16,196.06 L82.03,195.85 M89.96,195.03 L91.83,194.86 L93.69,194.69 L95.56,194.53 M103.49,193.90 L105.36,193.78 L107.22,193.66 L109.09,193.55 M117.02,193.20 L118.89,193.13 L120.75,193.08 L122.62,193.03 M130.85,192.91 L132.72,192.90 L134.58,192.90 L136.45,192.91 M144.38,193.03 L146.25,193.08 L148.11,193.13 L149.98,193.19 M157.91,193.54 L159.78,193.64 L161.64,193.76 L163.51,193.88 M171.44,194.47 L173.31,194.61 L175.17,194.75 L177.04,194.89 M184.97,195.48 L186.84,195.64 L188.70,195.81 L190.57,195.99 M198.50,196.77 L200.37,196.94 L202.23,197.11 L204.10,197.26 M212.03,197.83 L213.90,197.95 L215.76,198.08 L217.63,198.21 M225.56,198.78 L227.43,198.93 L229.29,199.07 L231.16,199.21 M239.09,199.82 L240.96,199.96 L242.82,200.08 L244.69,200.20 M252.62,200.61 L254.49,200.68 L256.35,200.74 L258.22,200.79 M266.15,200.95 L268.02,200.99 L269.88,201.03 L271.75,201.07" fill="none" stroke="#000" stroke-width="1.4"/>
<circle cx="132.1" cy="192.8" r="4" fill="#000"/>
<g opacity="0.88" filter="url(#nf)">
<text x="51.9" y="254.6" text-anchor="middle">0</text><text x="135.0" y="254.6" text-anchor="middle">0.05</text><text x="218.1" y="254.6" text-anchor="middle">0.1</text><text x="301.1" y="254.6" text-anchor="middle">0.15</text><text x="384.2" y="254.6" text-anchor="middle">0.2</text>
<text x="42.3" y="20.3" text-anchor="end">5</text><text x="42.3" y="57.1" text-anchor="end">4</text><text x="42.3" y="94.0" text-anchor="end">3</text><text x="42.3" y="130.8" text-anchor="end">2</text><text x="42.3" y="167.6" text-anchor="end">1</text><text x="42.3" y="204.5" text-anchor="end">0</text><text x="42.3" y="241.3" text-anchor="end">-1</text>
<text x="191.9" y="56.7" textLength="9.8" lengthAdjust="spacingAndGlyphs">T</text><text x="205.6" y="56.7" textLength="9.6" lengthAdjust="spacingAndGlyphs">=</text><text x="219.8" y="56.7" textLength="12.6" lengthAdjust="spacingAndGlyphs">25</text><text x="237.3" y="56.7" textLength="27.6" lengthAdjust="spacingAndGlyphs">MeV</text>
<text x="249.7" y="108.8" textLength="12.9" lengthAdjust="spacingAndGlyphs">20</text>
<text x="252.9" y="149.0" textLength="24.0" lengthAdjust="spacingAndGlyphs">13.4</text>
<text x="282.6" y="178.8" textLength="13.9" lengthAdjust="spacingAndGlyphs">10</text>
<text x="299.8" y="197.4" textLength="10.2" lengthAdjust="spacingAndGlyphs">T</text><text x="313.6" y="197.4" textLength="9.9" lengthAdjust="spacingAndGlyphs">=</text><text x="328.2" y="197.4" textLength="6.4" lengthAdjust="spacingAndGlyphs">0</text>
<text x="81.6" y="84.7" textLength="66.4" lengthAdjust="spacingAndGlyphs">asymmetric</text>
<text x="72.8" y="100.6" textLength="39.8" lengthAdjust="spacingAndGlyphs">nuclear</text><text x="119.0" y="100.6" textLength="37.6" lengthAdjust="spacingAndGlyphs">matter</text>
<g font-weight="bold" fill="#111">
<text x="92.4" y="124.7" textLength="9.3" lengthAdjust="spacingAndGlyphs">Z</text>
<text x="91.0" y="142.9" textLength="11.0" lengthAdjust="spacingAndGlyphs">A</text>
<text x="108.2" y="135.1" textLength="9.2" lengthAdjust="spacingAndGlyphs">=</text><text x="122.0" y="134.2" textLength="18.0" lengthAdjust="spacingAndGlyphs">0.3</text>
</g>
<path d="M90.2,130.5 H102.4" stroke="#111" stroke-width="0.8"/>
<g transform="translate(0,274.8)">
<text x="193.5" y="0" font-style="italic">ρ</text>
<text x="203.4" y="0">[</text>
<text x="208.3" y="0" textLength="14.3" lengthAdjust="spacingAndGlyphs">fm</text>
<text x="223.2" y="-5.2" font-size="10px" textLength="7.4" lengthAdjust="spacingAndGlyphs">−</text><text x="230.6" y="-5.2" font-size="10px">3</text>
<text x="235.0" y="0">]</text>
</g>
<g transform="translate(14.7,167.3) rotate(-90)">
<text x="-0.3" y="0" font-style="italic" textLength="9.4" lengthAdjust="spacingAndGlyphs">P</text>
<text x="14.3" y="0">[</text>
<text x="18.0" y="0" textLength="27.0" lengthAdjust="spacingAndGlyphs">MeV</text>
<text x="50.1" y="0" textLength="14.3" lengthAdjust="spacingAndGlyphs">fm</text>
<text x="64.8" y="-5.2" font-size="10px" textLength="7.6" lengthAdjust="spacingAndGlyphs">−</text><text x="72.6" y="-5.2" font-size="10px">3</text>
<text x="77.4" y="0">]</text>
</g>
</g>
</svg>
</body></html>
